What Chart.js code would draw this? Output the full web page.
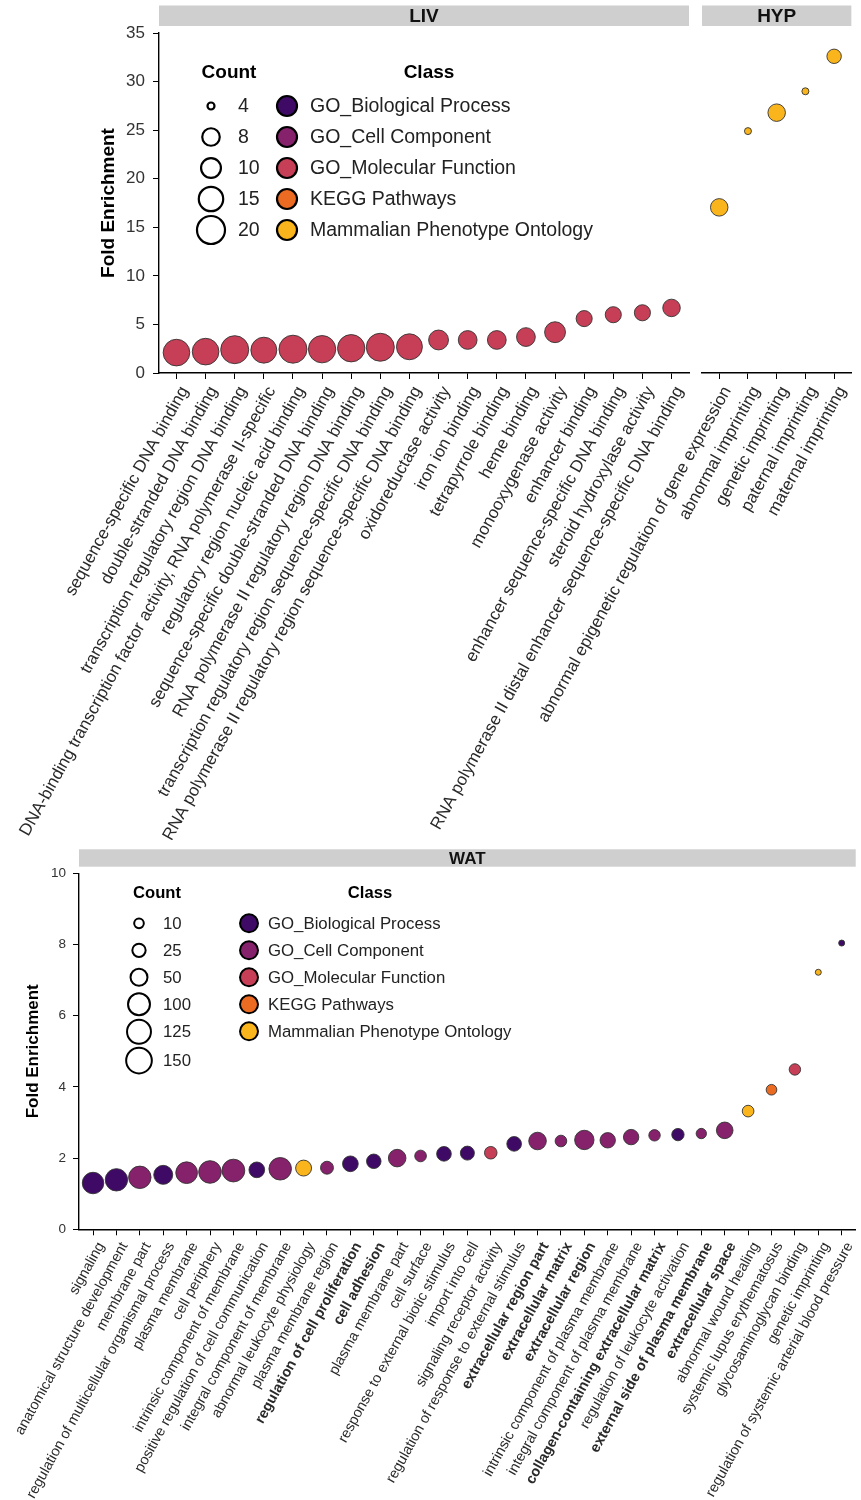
<!DOCTYPE html>
<html>
<head>
<meta charset="utf-8">
<script src="https://cdn.jsdelivr.net/npm/chart.js@4.4.1/dist/chart.umd.min.js"></script>
<style>
  html, body { margin: 0; padding: 0; background: #fff; }
  #page { position: relative; width: 861px; height: 1500px; overflow: hidden; background: #fff; }
  canvas { position: absolute; left: 0; }
</style>
</head>
<body>
<div id="page">
  <canvas id="liv" width="861" height="840" style="top:0"></canvas>
  <canvas id="hyp" width="861" height="840" style="top:0"></canvas>
  <canvas id="wat" width="868" height="660" style="top:840px"></canvas>
</div>
<script>
// ---- Enrichment results -------------------------------------------------
const LIV_TERMS = [
  'sequence-specific DNA binding',
  'double-stranded DNA binding',
  'transcription regulatory region DNA binding',
  'DNA-binding transcription factor activity, RNA polymerase II-specific',
  'regulatory region nucleic acid binding',
  'sequence-specific double-stranded DNA binding',
  'RNA polymerase II regulatory region DNA binding',
  'transcription regulatory region sequence-specific DNA binding',
  'RNA polymerase II regulatory region sequence-specific DNA binding',
  'oxidoreductase activity',
  'iron ion binding',
  'tetrapyrrole binding',
  'heme binding',
  'monooxygenase activity',
  'enhancer binding',
  'enhancer sequence-specific DNA binding',
  'steroid hydroxylase activity',
  'RNA polymerase II distal enhancer sequence-specific DNA binding'
];
const LIV_FOLD  = [2.1, 2.2, 2.4, 2.35, 2.45, 2.45, 2.55, 2.65, 2.7, 3.4, 3.4, 3.4, 3.7, 4.2, 5.6, 6.0, 6.2, 6.7];
const LIV_COUNT = [18, 18, 20, 17, 20, 19, 19, 20, 17, 10, 9, 9, 9, 11, 7, 7, 7, 8];
const LIV_CLASS = ['MF','MF','MF','MF','MF','MF','MF','MF','MF','MF','MF','MF','MF','MF','MF','MF','MF','MF'];

const HYP_TERMS = [
  'abnormal epigenetic regulation of gene expression',
  'abnormal imprinting',
  'genetic imprinting',
  'paternal imprinting',
  'maternal imprinting'
];
const HYP_FOLD  = [17.05, 24.9, 26.8, 29.0, 32.6];
const HYP_COUNT = [8, 4, 8, 4, 6];
const HYP_CLASS = ['MPO','MPO','MPO','MPO','MPO'];

const WAT_TERMS = [
  'signaling',
  'anatomical structure development',
  'membrane part',
  'regulation of multicellular organismal process',
  'plasma membrane',
  'cell periphery',
  'intrinsic component of membrane',
  'positive regulation of cell communication',
  'integral component of membrane',
  'abnormal leukocyte physiology',
  'plasma membrane region',
  'regulation of cell proliferation',
  'cell adhesion',
  'plasma membrane part',
  'cell surface',
  'response to external biotic stimulus',
  'import into cell',
  'signaling receptor activity',
  'regulation of response to external stimulus',
  'extracellular region part',
  'extracellular matrix',
  'extracellular region',
  'intrinsic component of plasma membrane',
  'integral component of plasma membrane',
  'collagen-containing extracellular matrix',
  'regulation of leukocyte activation',
  'external side of plasma membrane',
  'extracellular space',
  'abnormal wound healing',
  'systemic lupus erythematosus',
  'glycosaminoglycan binding',
  'genetic imprinting',
  'regulation of systemic arterial blood pressure'
];
const WAT_FOLD = [1.30, 1.39, 1.46, 1.53, 1.59, 1.61, 1.65, 1.67, 1.70, 1.72, 1.73, 1.84, 1.91, 2.00, 2.06,
                  2.12, 2.14, 2.15, 2.40, 2.48, 2.48, 2.51, 2.50, 2.59, 2.64, 2.66, 2.69, 2.78, 3.32, 3.92,
                  4.49, 7.22, 8.04];
const WAT_COUNT = [95, 105, 106, 68, 97, 108, 110, 40, 107, 42, 23, 40, 32, 55, 17,
                   33, 29, 21, 33, 55, 17, 72, 38, 38, 16, 20, 12, 47, 17, 13,
                   16, 5, 5];
const WAT_CLASS = ['BP','BP','CC','BP','CC','CC','CC','BP','CC','MPO','CC','BP','BP','CC','CC',
                   'BP','BP','MF','BP','CC','CC','CC','CC','CC','CC','BP','CC','CC','MPO','KEGG',
                   'MF','MPO','BP'];
// Terms printed in bold on the WAT axis
const WAT_BOLD = [
  'regulation of cell proliferation', 'cell adhesion', 'extracellular region part',
  'extracellular matrix', 'extracellular region', 'collagen-containing extracellular matrix',
  'external side of plasma membrane', 'extracellular space'
];

// ---- Legend content -----------------------------------------------------
const CLASS_KEYS   = ['BP', 'CC', 'MF', 'KEGG', 'MPO'];
const CLASS_NAMES  = ['GO_Biological Process', 'GO_Cell Component', 'GO_Molecular Function',
                      'KEGG Pathways', 'Mammalian Phenotype Ontology'];
const CLASS_COLORS = ['#3E0A66', '#86216B', '#C73F56', '#EB6B22', '#FBB51C'];
const TOP_COUNT_BREAKS = [4, 8, 10, 15, 20];
const WAT_COUNT_BREAKS = [10, 25, 50, 100, 125, 150];

// ---- Styling ------------------------------------------------------------
const FONT = '"Liberation Sans", Arial, Helvetica, sans-serif';
const colorOf = k => CLASS_COLORS[CLASS_KEYS.indexOf(k)];

// Bubble radius (px) from gene count: area-style scaling between a min and max radius
const topRadius = c => 3.5 + 10.5 * Math.sqrt(Math.max(c - 4, 0) / 16);
const watRadius = c => 3.0 + 10.5 * Math.sqrt(Math.max(c - 5, 0) / 165);

function bubbleData(fold, count, radius) {
  return fold.map((v, i) => ({ x: i, y: v, r: radius(count[i]) }));
}

// Grey facet strip above the panel
function stripPlugin(label, top, height, size) {
  return {
    id: 'facetStrip',
    afterDraw(chart) {
      const { ctx, chartArea: a } = chart;
      ctx.save();
      ctx.fillStyle = '#CFCFCF';
      ctx.fillRect(a.left, top, a.right - a.left, height);
      ctx.fillStyle = '#111';
      ctx.font = `bold ${size}px ${FONT}`;
      ctx.textAlign = 'center';
      ctx.textBaseline = 'middle';
      ctx.fillText(label, (a.left + a.right) / 2, top + height / 2 + 1);
      ctx.restore();
    }
  };
}

// Count (size) and Class (colour) legends drawn inside the panel
function legendPlugin(L) {
  return {
    id: 'inPanelLegend',
    afterDraw(chart) {
      const { ctx, chartArea: a } = chart;
      ctx.save();
      ctx.textBaseline = 'middle';
      ctx.fillStyle = '#000';
      ctx.font = `bold ${L.titleSize}px ${FONT}`;
      ctx.textAlign = 'center';
      ctx.fillText('Count', a.left + L.countTitleX, a.top + L.titleY);
      ctx.fillText('Class', a.left + L.classTitleX, a.top + L.titleY);

      const keyH = r => Math.max(L.keyH, 2 * r + L.keyPad);
      ctx.font = `${L.textSize}px ${FONT}`;
      ctx.textAlign = 'left';
      let y = a.top + L.rowY;
      let prevR = null;
      L.breaks.forEach(c => {
        const r = L.radius(c);
        if (prevR !== null) y += (keyH(prevR) + keyH(r)) / 2;
        prevR = r;
        ctx.beginPath();
        ctx.arc(a.left + L.countX, y, r, 0, Math.PI * 2);
        ctx.fillStyle = '#fff';
        ctx.fill();
        ctx.lineWidth = L.lw;
        ctx.strokeStyle = '#000';
        ctx.stroke();
        ctx.fillStyle = '#222';
        ctx.fillText(String(c), a.left + L.countLabelX, y + 1);
      });

      CLASS_NAMES.forEach((name, i) => {
        const cy = a.top + L.rowY + i * L.keyH;
        ctx.beginPath();
        ctx.arc(a.left + L.classX, cy, L.classR, 0, Math.PI * 2);
        ctx.fillStyle = CLASS_COLORS[i];
        ctx.fill();
        ctx.lineWidth = L.lw;
        ctx.strokeStyle = '#000';
        ctx.stroke();
        ctx.fillStyle = '#222';
        ctx.fillText(name, a.left + L.classLabelX, cy + 1);
      });
      ctx.restore();
    }
  };
}

function xAxis(terms, size, height, shift, boldList) {
  return {
    type: 'linear',
    min: -0.6,
    max: terms.length - 1 + 0.6,
    bounds: 'data',
    afterBuildTicks(s) { s.ticks = terms.map((_, i) => ({ value: i })); },
    afterFit(s) { s.height = height; },
    ticks: {
      autoSkip: false,
      minRotation: 61,
      maxRotation: 61,
      padding: 4,
      labelOffset: shift,
      color: '#2a2a2a',
      font: ctx => ({
        family: FONT,
        size: size,
        weight: boldList && boldList.includes(terms[ctx.index]) ? 'bold' : 'normal'
      }),
      callback: v => terms[v]
    },
    grid: { drawOnChartArea: false, drawTicks: true, tickLength: 6, color: '#000', lineWidth: 1 },
    border: { display: true, color: '#000', width: 1.4 }
  };
}

function yAxis(max, step, size, width, titleSize, titlePad, tickPad, show) {
  return {
    display: show,
    min: 0,
    max: max,
    afterFit(s) { s.width = width; },
    ticks: { stepSize: step, color: '#333', padding: tickPad, font: { family: FONT, size: size } },
    grid: { drawOnChartArea: false, drawTicks: true, tickLength: 6, color: '#000', lineWidth: 1 },
    border: { display: true, color: '#000', width: 1.4 },
    title: {
      display: true,
      text: 'Fold Enrichment',
      color: '#000',
      font: { family: FONT, size: titleSize, weight: 'bold' },
      padding: { top: titlePad, bottom: 0 }
    }
  };
}

function bubbleDataset(fold, count, classes, radius) {
  return {
    data: bubbleData(fold, count, radius),
    backgroundColor: classes.map(colorOf),
    borderColor: '#333',
    borderWidth: 0.9,
    clip: false
  };
}

const baseOptions = {
  responsive: false,
  animation: false,
  devicePixelRatio: 1,
  events: [],
  plugins: { legend: { display: false }, tooltip: { enabled: false } }
};

// ---- LIV facet (carries the y axis and the legends) ----------------------
new Chart(document.getElementById('liv'), {
  type: 'bubble',
  data: { datasets: [bubbleDataset(LIV_FOLD, LIV_COUNT, LIV_CLASS, topRadius)] },
  options: Object.assign({}, baseOptions, {
    layout: { padding: { top: 33, right: 172, left: 0, bottom: 0 } },
    scales: {
      x: xAxis(LIV_TERMS, 17, 840 - 373, 8),
      y: yAxis(35, 5, 17, 159, 19, 97, 8, true)
    }
  }),
  plugins: [
    stripPlugin('LIV', 5.5, 20.5, 19),
    legendPlugin({
      breaks: TOP_COUNT_BREAKS, radius: topRadius,
      titleSize: 19, textSize: 19.5, titleY: 40, rowY: 73, keyH: 31, keyPad: 3,
      countTitleX: 70, countX: 52, countLabelX: 79,
      classTitleX: 270, classX: 128, classLabelX: 151, classR: 10, lw: 2.2
    })
  ]
});

// ---- HYP facet (shares the LIV y range) ----------------------------------
new Chart(document.getElementById('hyp'), {
  type: 'bubble',
  data: { datasets: [bubbleDataset(HYP_FOLD, HYP_COUNT, HYP_CLASS, topRadius)] },
  options: Object.assign({}, baseOptions, {
    layout: { padding: { top: 33, right: 7, left: 702, bottom: 0 } },
    scales: {
      x: xAxis(HYP_TERMS, 17, 840 - 373, 8),
      y: yAxis(35, 5, 17, 0, 19, 0, 8, false)
    }
  }),
  plugins: [stripPlugin('HYP', 5.5, 20.5, 19)]
});

// ---- WAT panel -----------------------------------------------------------
new Chart(document.getElementById('wat'), {
  type: 'bubble',
  data: { datasets: [bubbleDataset(WAT_FOLD, WAT_COUNT, WAT_CLASS, watRadius)] },
  options: Object.assign({}, baseOptions, {
    layout: { padding: { top: 33.3, right: 4, left: 0, bottom: 0 } },
    scales: {
      x: xAxis(WAT_TERMS, 14.5, 660 - 389.3, 8, WAT_BOLD),
      y: yAxis(10, 2, 13.5, 79, 17, 23, 7, true)
    }
  }),
  plugins: [
    stripPlugin('WAT', 9.3, 17.4, 17),
    legendPlugin({
      breaks: WAT_COUNT_BREAKS, radius: watRadius,
      titleSize: 16.6, textSize: 16.8, titleY: 20, rowY: 50, keyH: 27, keyPad: 4,
      countTitleX: 78, countX: 60, countLabelX: 84,
      classTitleX: 291, classX: 170, classLabelX: 189, classR: 9, lw: 2
    })
  ]
});
</script>
</body>
</html>
